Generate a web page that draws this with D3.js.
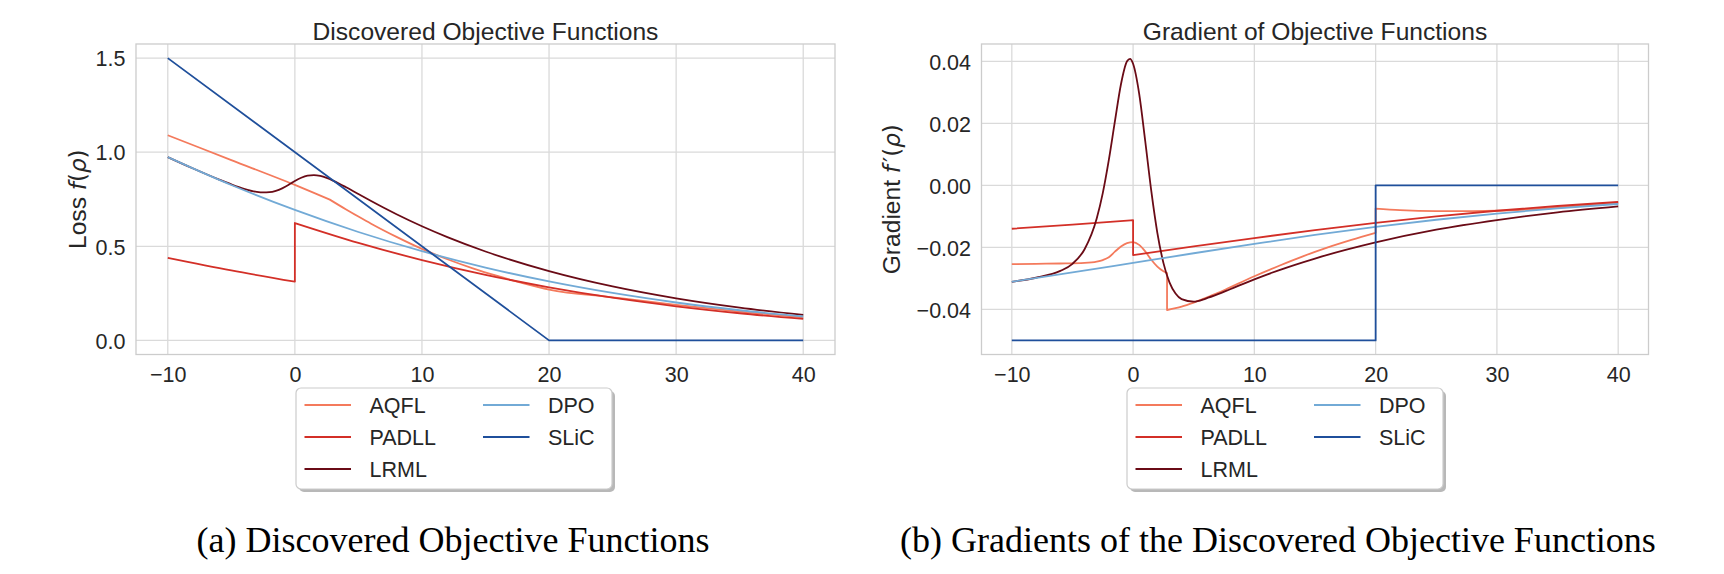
<!DOCTYPE html>
<html>
<head>
<meta charset="utf-8">
<script src="https://cdn.jsdelivr.net/npm/d3@7"></script>
<style>
  body { margin: 0; background: #fff; }
  svg { display: block; }
</style>
</head>
<body>
<div id="chart"></div>
<script>
// ---- data ----
var seriesNames = ['AQFL', 'PADLL', 'LRML', 'DPO', 'SLiC'];

var aqflLossRho = [-10, -5, 0, 1.5, 2.75, 2.75, 4, 5, 6, 8, 10, 12, 14, 16, 18, 20, 25, 30, 35, 40];
var aqflLoss    = [1.090, 0.958, 0.826, 0.784, 0.748, 0.748, 0.697, 0.658, 0.620, 0.550, 0.486, 0.431, 0.383, 0.341, 0.303, 0.270, 0.229, 0.189, 0.153, 0.122];
var aqflGradRho = [-10, -8, -6, -4, -3, -2.5, -2, -1.5, -1, -0.5, 0, 0.5, 1, 1.5, 2, 2.5, 2.8, 2.8, 3.5, 4, 5, 6, 7, 8, 10, 12, 14, 16, 18, 20, 20, 22, 25, 28, 30, 33, 36, 40];
var aqflGrad    = [-0.0254, -0.0253, -0.0252, -0.0250, -0.0246, -0.0241, -0.0232, -0.0214, -0.0197, -0.0186,
                   -0.0183, -0.0192, -0.0213, -0.0240, -0.0262, -0.0277, -0.0283, -0.0402,
                   -0.0396, -0.0391, -0.0378, -0.0363, -0.0347, -0.0329,
                   -0.0293, -0.0260, -0.0229, -0.0201, -0.0176, -0.0153, -0.0075,
                   -0.0080, -0.0083, -0.0083, -0.0082, -0.0077, -0.0069, -0.0057];

var padllRho  = [-10, -5, 0, 0, 5, 10, 15, 20, 25, 30, 35, 40];
var padllLoss = [0.4383, 0.3717, 0.3119, 0.6238, 0.5183, 0.4267, 0.3482, 0.2820, 0.2267, 0.1813, 0.1442, 0.1142];
var padllGrad = [-0.0140, -0.01265, -0.01125, -0.0225, -0.0197, -0.0170, -0.01444, -0.0121, -0.0100, -0.0082, -0.00666, -0.00536];

var lrmlRho  = [-10, -8, -6, -5, -4, -3, -2.5, -2, -1.5, -1, -0.5, -0.25, 0, 0.5, 1, 1.5, 2, 2.5, 3, 3.5, 4, 5, 6, 7, 8, 10, 12, 15, 20, 25, 30, 35, 40];
var lrmlLoss = [0.9741, 0.9132, 0.8556, 0.8290, 0.8057, 0.7894, 0.7861, 0.7874, 0.7946, 0.8080,
                0.8264, 0.8365, 0.8466, 0.8641, 0.8752, 0.8782, 0.8738, 0.8635, 0.8493, 0.8327, 0.8148,
                0.7775, 0.7404, 0.7045, 0.6703, 0.6065, 0.5488, 0.4724, 0.3679, 0.2865, 0.2231, 0.1738, 0.1353];
var lrmlGrad = [-0.0311, -0.0298, -0.0276, -0.0253, -0.0206, -0.0107, -0.0025, 0.0082, 0.0206, 0.0326,
                0.0400, 0.0408, 0.0392, 0.0296, 0.0143, -0.0018, -0.0153, -0.0250, -0.0313, -0.0349, -0.0367,
                -0.0375, -0.0365, -0.0351, -0.0335, -0.0303, -0.0274, -0.0236, -0.0184, -0.0143, -0.0112, -0.0087, -0.0068];

var dpoRho  = [-10, -5, 0, 5, 10, 15, 20, 25, 30, 35, 40];
var dpoLoss = [0.9741, 0.8259, 0.6931, 0.5759, 0.4741, 0.3869, 0.3133, 0.2519, 0.2014, 0.1602, 0.1269];
var dpoGrad = [-0.0311, -0.0281, -0.0250, -0.0219, -0.0189, -0.0160, -0.0134, -0.0111, -0.0091, -0.0074, -0.0060];

var slicRho  = [-10, 20, 20, 40];
var slicLoss = [1.5, 0, 0, 0];
var slicGrad = [-0.05, -0.05, 0, 0];

var xTicks = [-10, 0, 10, 20, 30, 40];
var lossTicks = [0, 0.5, 1, 1.5];
var gradTicks = [-0.04, -0.02, 0, 0.02, 0.04];

(function(d3) {
    var colors = ['#f47a5c', '#d32f27', '#6a0b16', '#72aad6', '#1f4f9b'];
    var sans = 'Liberation Sans, Arial, Helvetica, sans-serif';
    var ink = '#262626';

    var series = [
        {loss: [aqflLossRho, aqflLoss], grad: [aqflGradRho, aqflGrad]},
        {loss: [padllRho, padllLoss], grad: [padllRho, padllGrad]},
        {loss: [lrmlRho, lrmlLoss], grad: [lrmlRho, lrmlGrad]},
        {loss: [dpoRho, dpoLoss], grad: [dpoRho, dpoGrad]},
        {loss: [slicRho, slicLoss], grad: [slicRho, slicGrad]}
    ];

    var W = 1724, H = 574, plotTop = 44, plotBottom = 354.5;

    var panels = [
        {left: 136, right: 835, key: 'loss', yDomain: [-0.075, 1.575], yTicks: lossTicks, fmt: d3.format('.1f'),
         title: 'Discovered Objective Functions', label: ['Loss ', 'f', '(', 'ρ', ')'], labelX: 86,
         legendX: 296, caption: '(a) Discovered Objective Functions', captionX: 453},
        {left: 981.5, right: 1648.5, key: 'grad', yDomain: [-0.05455, 0.04558], yTicks: gradTicks, fmt: d3.format('.2f'),
         title: 'Gradient of Objective Functions', label: ['Gradient ', 'f', '′', '(', 'ρ', ')'], labelX: 900,
         legendX: 1127, caption: '(b) Gradients of the Discovered Objective Functions', captionX: 1278}
    ];

    var svg = d3.select('#chart')
        .append('svg')
        .attr('width', W)
        .attr('height', H);

    svg.append('rect').attr('width', W).attr('height', H).attr('fill', '#fff');

    // split a series where rho repeats, so jumps are drawn as straight connectors
    function segments(xs, ys) {
        var segs = [[]];
        xs.forEach(function(x, i) {
            if (i > 0 && x === xs[i - 1]) segs.push([]);
            segs[segs.length - 1].push([x, ys[i]]);
        });
        return segs;
    }

    panels.forEach(function(p) {
        var x = d3.scaleLinear().domain([-12.5, 42.5]).range([p.left, p.right]);
        var y = d3.scaleLinear().domain(p.yDomain).range([plotBottom, plotTop]);
        var g = svg.append('g');

        // grid
        g.selectAll('.gx').data(xTicks).enter().append('line')
            .attr('x1', function(d) { return x(d); }).attr('x2', function(d) { return x(d); })
            .attr('y1', plotTop).attr('y2', plotBottom)
            .attr('stroke', '#dadada').attr('stroke-width', 1.3);
        g.selectAll('.gy').data(p.yTicks).enter().append('line')
            .attr('x1', p.left).attr('x2', p.right)
            .attr('y1', function(d) { return y(d); }).attr('y2', function(d) { return y(d); })
            .attr('stroke', '#dadada').attr('stroke-width', 1.3);

        // curves
        var line = d3.line()
            .x(function(d) { return x(d[0]); })
            .y(function(d) { return y(d[1]); })
            .curve(d3.curveMonotoneX);

        series.forEach(function(s, i) {
            var segs = segments(s[p.key][0], s[p.key][1]);
            var d = segs.map(function(seg, j) {
                var part = line(seg);
                return j ? part.replace(/^M/, 'L') : part;
            }).join('');
            g.append('path')
                .attr('d', d)
                .attr('fill', 'none')
                .attr('stroke', colors[i])
                .attr('stroke-width', 1.8)
                .attr('stroke-linejoin', 'round');
        });

        // frame
        g.append('rect')
            .attr('x', p.left).attr('y', plotTop)
            .attr('width', p.right - p.left).attr('height', plotBottom - plotTop)
            .attr('fill', 'none').attr('stroke', '#cccccc').attr('stroke-width', 1.3);

        // axes
        var ax = g.append('g')
            .attr('transform', 'translate(0,' + plotBottom + ')')
            .call(d3.axisBottom(x).tickValues(xTicks).tickSize(0).tickFormat(d3.format('d')));
        ax.select('.domain').remove();
        ax.selectAll('text').attr('y', 27).attr('dy', null)
            .attr('font-family', sans).attr('font-size', 21.5).attr('fill', ink);

        var ay = g.append('g')
            .attr('transform', 'translate(' + p.left + ',0)')
            .call(d3.axisLeft(y).tickValues(p.yTicks).tickSize(0).tickFormat(p.fmt));
        ay.select('.domain').remove();
        ay.selectAll('text').attr('x', -10.5).attr('dy', '0.36em')
            .attr('font-family', sans).attr('font-size', 21.5).attr('fill', ink);

        // title
        g.append('text')
            .attr('x', (p.left + p.right) / 2).attr('y', 39.5)
            .attr('text-anchor', 'middle')
            .attr('font-family', sans).attr('font-size', 24.6).attr('fill', ink)
            .text(p.title);

        // y label
        var lab = g.append('text')
            .attr('transform', 'translate(' + p.labelX + ',' + ((plotTop + plotBottom) / 2) + ') rotate(-90)')
            .attr('text-anchor', 'middle')
            .attr('font-family', sans).attr('font-size', 24.6).attr('fill', ink);
        p.label.forEach(function(t, i) {
            var ts = lab.append('tspan').text(t);
            if (i > 0) ts.attr('font-family', 'DejaVu Sans').attr('font-size', 23);
            if (t === 'f' || t === 'ρ') ts.attr('font-style', 'italic');
            if (t === '′') ts.attr('dx', 3).attr('font-family', 'DejaVu Sans');
        });

        // legend
        var lg = g.append('g').attr('transform', 'translate(' + p.legendX + ',388)');
        lg.append('rect')
            .attr('x', 3).attr('y', 3).attr('width', 316).attr('height', 101).attr('rx', 5)
            .attr('fill', '#b8b8b8');
        lg.append('rect')
            .attr('width', 316).attr('height', 101).attr('rx', 5)
            .attr('fill', '#fff').attr('stroke', '#cccccc').attr('stroke-width', 1.2);
        seriesNames.forEach(function(name, i) {
            var col = i < 3 ? 0 : 1;
            var row = i < 3 ? i : i - 3;
            var ex = col * 178.5, ey = 17 + row * 32;
            lg.append('line')
                .attr('x1', ex + 8.5).attr('x2', ex + 55)
                .attr('y1', ey).attr('y2', ey)
                .attr('stroke', colors[i]).attr('stroke-width', 1.8);
            lg.append('text')
                .attr('x', ex + 73.5).attr('y', ey).attr('dy', '0.36em')
                .attr('font-family', sans).attr('font-size', 21.5).attr('fill', ink)
                .text(name);
        });

        // caption
        svg.append('text')
            .attr('x', p.captionX).attr('y', 552)
            .attr('text-anchor', 'middle')
            .attr('font-family', 'Liberation Serif, Times New Roman, serif')
            .attr('font-size', 36).attr('fill', '#000')
            .text(p.caption);
    });
}(window.d3));
</script>
</body>
</html>
